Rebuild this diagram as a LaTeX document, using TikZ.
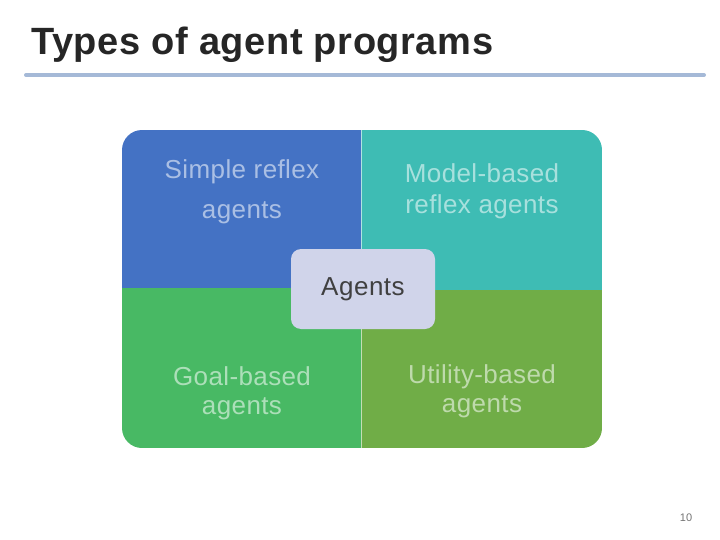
\documentclass[tikz,border=0pt]{standalone}
\usepackage{fontspec}
\setmainfont{Liberation Sans}
\definecolor{cblue}{RGB}{68,114,196}
\definecolor{cteal}{RGB}{62,188,180}
\definecolor{cgreen}{RGB}{72,185,100}
\definecolor{colive}{RGB}{112,173,71}
\definecolor{ccenter}{RGB}{208,212,234}
\definecolor{rule}{RGB}{165,185,215}
\begin{document}
\begin{tikzpicture}[x=1pt,y=-1pt,
  quadtext/.style={text=white,text opacity=0.55,align=center},
  centerbox/.style={fill=ccenter,rounded corners=10pt,minimum width=144pt,minimum height=80pt,font=\fontsize{26}{28}\selectfont\addfontfeatures{LetterSpace=2},text=black!75}]
\useasboundingbox (0,0) rectangle (720,540);
% title
\node[anchor=base west,font=\bfseries\fontsize{38}{40}\selectfont\addfontfeatures{LetterSpace=1.5},text=black!85,inner sep=0] (title) at (31,55) {Types of agent programs};
\draw[rule,line width=4pt,line cap=round] (26,75) coordinate (rl) -- (704,75) coordinate (rr);
% quadrants
\begin{scope}
\clip[rounded corners=20pt] (122,130) rectangle (602,448);
\fill[cblue] (122,130) rectangle (361,288);
\fill[cteal] (361,130) rectangle (602,290);
\fill[cgreen] (122,288) rectangle (361,448);
\fill[colive] (361,290) rectangle (602,448);
\end{scope}
\draw[white,opacity=0.6,line width=0.8pt] (361,130) -- (361,448);
\node[quadtext,font=\fontsize{26}{40}\selectfont\addfontfeatures{LetterSpace=1.5}] (q1) at (242,192) {Simple reflex\\agents};
\node[quadtext,font=\fontsize{26}{31}\selectfont\addfontfeatures{LetterSpace=1.5}] (q2) at (482,191) {Model-based\\reflex agents};
\node[quadtext,font=\fontsize{26}{29}\selectfont\addfontfeatures{LetterSpace=1.5}] (q3) at (242,393) {Goal-based\\agents};
\node[quadtext,font=\fontsize{26}{29}\selectfont\addfontfeatures{LetterSpace=1.5}] (q4) at (482,391) {Utility-based\\agents};
\node[centerbox] (agents) at (363,289) {Agents};
\node[font=\fontsize{11}{12}\selectfont,text=black!55] (pg) at (686,518) {10};
\end{tikzpicture}
\end{document}
